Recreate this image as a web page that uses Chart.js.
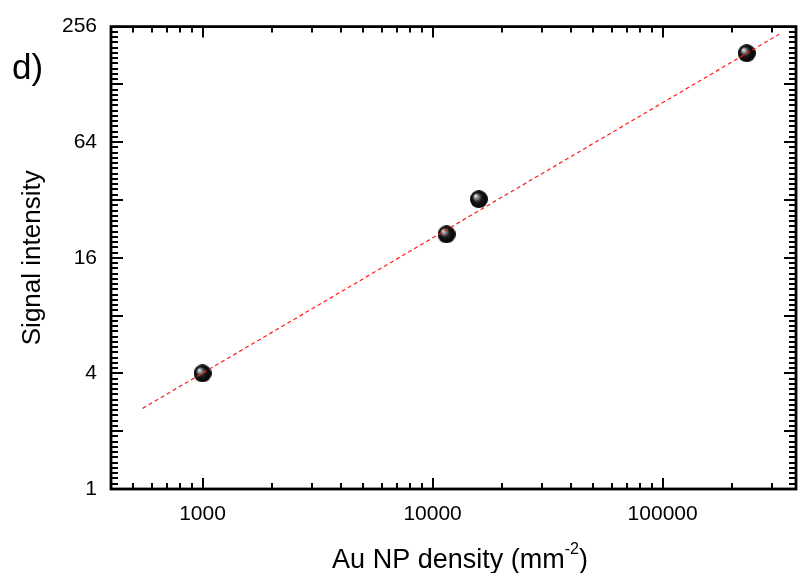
<!DOCTYPE html>
<html>
<head>
<meta charset="utf-8">
<script src="https://cdn.jsdelivr.net/npm/chart.js@4/dist/chart.umd.min.js"></script>
<style>
  html, body { margin: 0; padding: 0; background: #fff; }
  #wrap { width: 806px; height: 573px; }
</style>
</head>
<body>
<div id="wrap"><canvas id="c" width="806" height="573"></canvas></div>
<script>
// ---- data ----
const densities   = [1000, 11500, 15900, 232000];   // Au NP density (mm^-2)
const intensities = [4.0, 21.2, 32.3, 186];         // Signal intensity
const fitX = [549, 321000];                          // fitted line end points
const fitY = [2.63, 233.6];
const xMajorTicks = [1000, 10000, 100000];
const yMajorTicks = [1, 2, 4, 8, 16, 32, 64, 128, 256];
const yLabelTicks = [1, 4, 16, 64, 256];
const xRange = [400, 380000];
const yRange = [1, 256];

const FONT = "'Liberation Sans', Arial, sans-serif";

function sphere(r) {
  const c = document.createElement('canvas');
  c.width = c.height = 2 * r;
  const g = c.getContext('2d');
  const grd = g.createRadialGradient(r - 3.5, r - 3.5, 0.3, r, r, r);
  grd.addColorStop(0, '#f0f0f0');
  grd.addColorStop(0.22, '#8a8a8a');
  grd.addColorStop(0.5, '#1a1a1a');
  grd.addColorStop(1, '#000');
  g.fillStyle = grd;
  g.beginPath(); g.arc(r, r, r, 0, Math.PI * 2); g.fill();
  return c;
}
const ball = sphere(9);

const framePlugin = {
  id: 'frame',
  beforeDatasetsDraw(chart) {
    const ctx = chart.ctx, a = chart.chartArea;
    const xs = chart.scales.x, ys = chart.scales.y;
    ctx.save();
    ctx.strokeStyle = '#000';
    ctx.lineWidth = 2;
    ctx.beginPath();
    const xMinor = [];
    for (let e = 2; e <= 5; e++) for (let k = 2; k <= 9; k++) {
      const v = k * Math.pow(10, e);
      if (v > xRange[0] && v < xRange[1]) xMinor.push(v);
    }
    xMinor.forEach(v => {
      const p = Math.round(xs.getPixelForValue(v));
      ctx.moveTo(p, a.bottom); ctx.lineTo(p, a.bottom - 6);
      ctx.moveTo(p, a.top); ctx.lineTo(p, a.top + 6);
    });
    xMajorTicks.forEach(v => {
      const p = Math.round(xs.getPixelForValue(v));
      ctx.moveTo(p, a.bottom); ctx.lineTo(p, a.bottom - 11);
      ctx.moveTo(p, a.top); ctx.lineTo(p, a.top + 11);
    });
    for (let n = 0; n < 8; n++) {
      for (let k = 1; k <= 10; k++) {
        const v = Math.pow(2, n + k / 11);
        const p = Math.round(ys.getPixelForValue(v));
        ctx.moveTo(a.left, p); ctx.lineTo(a.left + 7, p);
        ctx.moveTo(a.right, p); ctx.lineTo(a.right - 7, p);
      }
    }
    yMajorTicks.forEach(v => {
      const p = Math.round(ys.getPixelForValue(v));
      ctx.moveTo(a.left, p); ctx.lineTo(a.left + 12, p);
      ctx.moveTo(a.right, p); ctx.lineTo(a.right - 12, p);
    });
    ctx.stroke();
    ctx.lineWidth = 2.8;
    ctx.strokeRect(a.left, a.top, a.right - a.left, a.bottom - a.top);
    ctx.restore();
  },
  afterDraw(chart) {
    const ctx = chart.ctx;
    ctx.save();
    ctx.fillStyle = '#000';
    ctx.textBaseline = 'alphabetic';
    ctx.font = '35px ' + FONT;
    ctx.textAlign = 'left';
    ctx.fillText('d)', 12, 79);
    const main = 'Au NP density (mm', sup = '-2', tail = ')';
    ctx.font = '27px ' + FONT;
    const w1 = ctx.measureText(main).width, w3 = ctx.measureText(tail).width;
    ctx.font = '16px ' + FONT;
    const w2 = ctx.measureText(sup).width;
    const total = w1 + w2 + w3;
    let x = 460 - total / 2;
    const base = 568;
    ctx.font = '27px ' + FONT;
    ctx.fillText(main, x, base); x += w1;
    ctx.font = '16px ' + FONT;
    ctx.fillText(sup, x, base - 14); x += w2;
    ctx.font = '27px ' + FONT;
    ctx.fillText(tail, x, base);
    ctx.restore();
  }
};

new Chart(document.getElementById('c'), {
  type: 'scatter',
  data: {
    datasets: [
      {
        label: 'fit',
        type: 'line',
        data: fitX.map((d, i) => ({ x: d, y: fitY[i] })),
        borderColor: '#ff1a1a',
        borderWidth: 1.2,
        borderDash: [4, 3],
        pointRadius: 0,
        fill: false
      },
      {
        label: 'data',
        data: densities.map((d, i) => ({ x: d, y: intensities[i] })),
        pointStyle: ball,
        pointRadius: 9,
        pointHoverRadius: 9,
        backgroundColor: '#000',
        borderColor: '#000'
      }
    ]
  },
  options: {
    responsive: false,
    animation: false,
    events: [],
    layout: { padding: { top: 25, right: 4, left: 0, bottom: 0 } },
    plugins: { legend: { display: false }, tooltip: { enabled: false } },
    scales: {
      x: {
        type: 'logarithmic',
        min: xRange[0], max: xRange[1],
        grid: { display: false, drawTicks: false },
        border: { display: false },
        afterBuildTicks: s => { s.ticks = xMajorTicks.map(v => ({ value: v })); },
        afterFit: s => { s.height = 84; },
        ticks: {
          autoSkip: false, maxRotation: 0, padding: 13,
          color: '#000', font: { family: FONT, size: 21 },
          callback: v => String(v)
        }
      },
      y: {
        type: 'logarithmic',
        min: yRange[0], max: yRange[1],
        grid: { display: false, drawTicks: false },
        border: { display: false },
        afterBuildTicks: s => { s.ticks = yLabelTicks.map(v => ({ value: v })); },
        afterFit: s => { s.width = 111; },
        ticks: {
          autoSkip: false, padding: 14,
          color: '#000', font: { family: FONT, size: 21 },
          callback: v => String(v)
        },
        title: {
          display: true, text: 'Signal intensity', color: '#000',
          font: { family: FONT, size: 26 }, padding: { top: 17, bottom: 0 }
        }
      }
    }
  },
  plugins: [framePlugin]
});
</script>
</body>
</html>
